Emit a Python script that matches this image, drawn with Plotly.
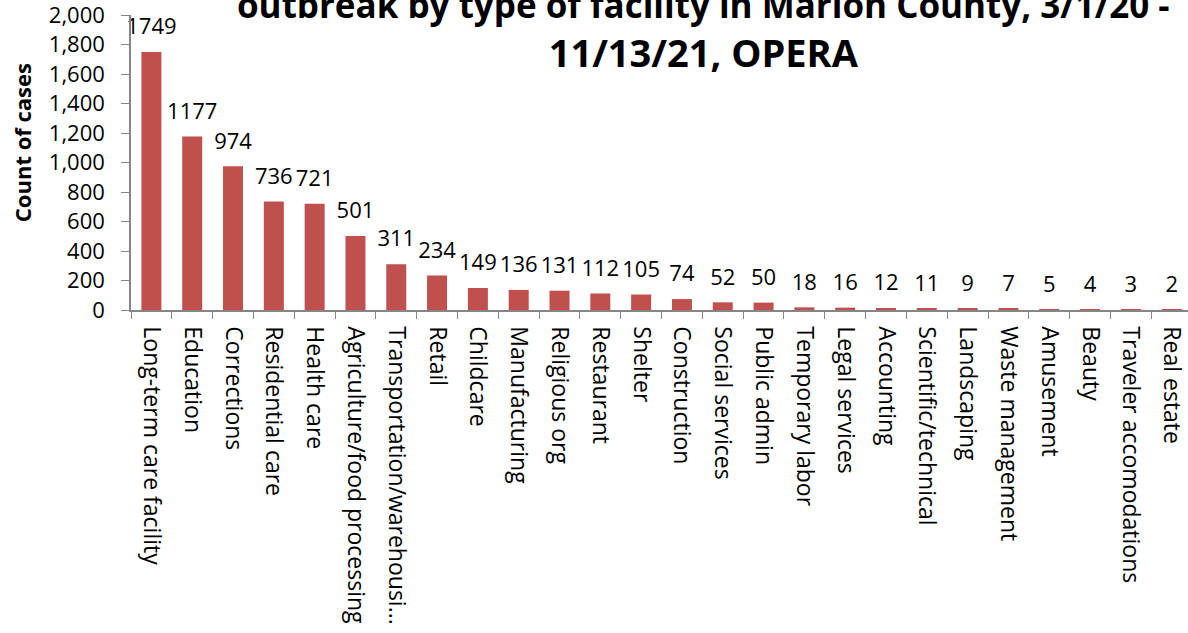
import plotly.graph_objects as go

categories = [
    "Long-term care facility", "Education", "Corrections", "Residential care",
    "Health care", "Agriculture/food processing", "Transportation/warehousi...",
    "Retail", "Childcare", "Manufacturing", "Religious org", "Restaurant",
    "Shelter", "Construction", "Social services", "Public admin",
    "Temporary labor", "Legal services", "Accounting", "Scientific/technical",
    "Landscaping", "Waste management", "Amusement", "Beauty",
    "Traveler accomodations", "Real estate",
]
cases = [1749, 1177, 974, 736, 721, 501, 311, 234, 149, 136, 131, 112, 105,
         74, 52, 50, 18, 16, 12, 11, 9, 7, 5, 4, 3, 2]

title_line1 = "outbreak by type of facility in Marion County, 3/1/20 -"
title_line2 = "11/13/21, OPERA"
y_title = "Count of cases"

FONT = "Open Sans"
BAR = "#C0504D"
AXIS = "#868686"

fig = go.Figure()
fig.add_trace(go.Bar(
    x=categories, y=cases, marker=dict(color=BAR, line=dict(width=0)),
    hoverinfo="x+y", showlegend=False,
))
fig.add_trace(go.Scatter(
    x=categories, y=cases, mode="markers+text",
    text=[str(v) for v in cases], textposition="top center",
    marker=dict(size=18, opacity=0),
    textfont=dict(family=FONT, size=22, color="black"),
    cliponaxis=False, showlegend=False, hoverinfo="skip",
))

fig.update_layout(
    width=1188, height=633,
    paper_bgcolor="white", plot_bgcolor="white",
    margin=dict(l=131, r=0, t=15, b=323),
    bargap=0.51,
    font=dict(family=FONT, color="black"),
    title=dict(
        text=f'<span style="font-size:35px">{title_line1}</span><br>{title_line2}',
        x=0.592, xanchor="center", xref="container",
        y=0.972, yanchor="bottom", yref="container",
        font=dict(family=FONT, size=38, color="black", weight="bold"),
    ),
    xaxis=dict(
        range=[-0.5, 25.4], showline=True, linecolor=AXIS, linewidth=1.5,
        ticks="outside", tickson="boundaries", ticklen=7, tickcolor=AXIS,
        tickangle=90, tickfont=dict(family=FONT, size=23, color="black"),
        ticklabelstandoff=10, ticklabeloverflow="allow",
        showgrid=False, zeroline=False, automargin=False,
    ),
    yaxis=dict(
        range=[0, 2000], dtick=200, tickformat=",d",
        showline=True, linecolor=AXIS, linewidth=1.5,
        ticks="outside", ticklen=8, tickcolor=AXIS,
        tickfont=dict(family=FONT, size=22, color="black"),
        ticklabelstandoff=12, ticklabeloverflow="allow",
        showgrid=False, zeroline=False, automargin=False,
    ),
    annotations=[dict(
        text=y_title, textangle=-90, xref="paper", yref="paper",
        x=-0.103, y=0.566, xanchor="center", yanchor="middle", showarrow=False,
        font=dict(family=FONT, size=22, color="black", weight="bold"),
    )],
)

fig.write_html(
    "out.html",
    config={"displayModeBar": False},
    post_script="document.body.style.margin='0';document.body.style.overflow='hidden';",
)
